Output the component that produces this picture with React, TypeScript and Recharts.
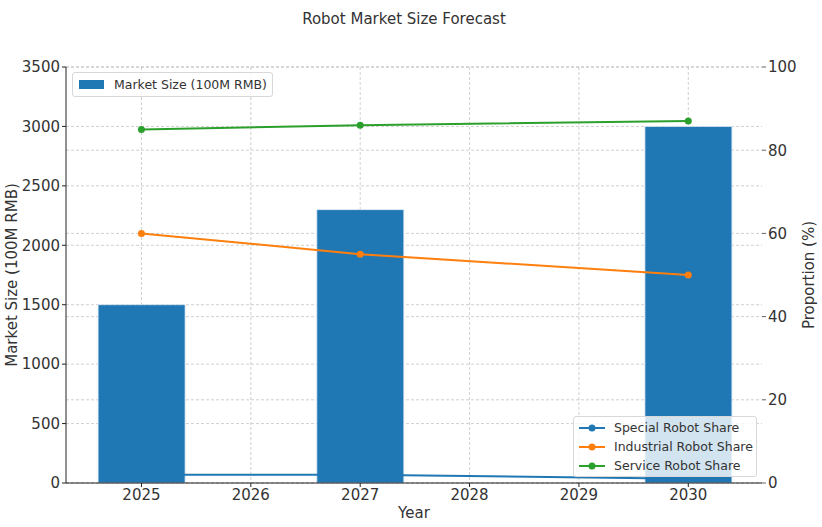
import React from 'react';
import { ComposedChart, Bar, Line, XAxis, YAxis, CartesianGrid } from 'recharts';

const years = [2025, 2027, 2030];
const marketSize = [1500, 2300, 3000];
const specialShare = [2, 2, 1];
const industrialShare = [60, 55, 50];
const serviceShare = [85, 86, 87];

const yearTicks = [2025, 2026, 2027, 2028, 2029, 2030];
const sizeTicks = [0, 500, 1000, 1500, 2000, 2500, 3000, 3500];
const shareTicks = [0, 20, 40, 60, 80, 100];

const data = years.map((year, i) => ({
  year,
  size: marketSize[i],
  special: specialShare[i],
  industrial: industrialShare[i],
  service: serviceShare[i],
}));

const FONT = 'DejaVu Sans, sans-serif';
const tickStyle = { fill: '#333', fontSize: 15, fontFamily: FONT };

const lineSeries = [
  { key: 'special', name: 'Special Robot Share', color: '#1f77b4' },
  { key: 'industrial', name: 'Industrial Robot Share', color: '#ff7f0e' },
  { key: 'service', name: 'Service Robot Share', color: '#2ca02c' },
];

const App = () => {
  return (
    <div style={{ position: 'relative', width: 822, height: 527, fontFamily: FONT, color: '#333', background: '#fff' }}>
      <style>{`body { margin: 0; }`}</style>
      <ComposedChart width={822} height={527} data={data} margin={{ top: 67, right: 0, bottom: 0, left: 0 }}>
        <XAxis
          dataKey="year"
          type="number"
          domain={[2024.31, 2030.674]}
          ticks={yearTicks}
          allowDataOverflow
          height={44}
          tick={tickStyle}
          tickSize={4}
          stroke="#222"
          tickLine={{ stroke: '#222' }}
        />
        <YAxis
          yAxisId="left"
          domain={[0, 3500]}
          ticks={sizeTicks}
          width={66}
          tick={tickStyle}
          tickSize={4}
          stroke="#222"
        />
        <YAxis
          yAxisId="right"
          orientation="right"
          domain={[0, 100]}
          ticks={shareTicks}
          width={60}
          tick={tickStyle}
          tickSize={4}
          axisLine={false}
          tickLine={{ stroke: '#666' }}
        />
        <Bar yAxisId="left" dataKey="size" fill="#1f77b4" stroke="#dfe9f3" strokeWidth={0.8} barSize={87} isAnimationActive={false} />
        <CartesianGrid yAxisId="left" syncWithTicks strokeDasharray="3 2" stroke="#b0b0b0" strokeOpacity={0.6} />
        <CartesianGrid yAxisId="right" syncWithTicks vertical={false} strokeDasharray="3 2" stroke="#b0b0b0" strokeOpacity={0.6} />
        {lineSeries.map((s) => (
          <Line
            key={s.key}
            yAxisId="right"
            dataKey={s.key}
            stroke={s.color}
            strokeWidth={2}
            dot={{ r: 3.5, fill: s.color, stroke: s.color, strokeWidth: 0 }}
            activeDot={false}
            isAnimationActive={false}
          />
        ))}
      </ComposedChart>

      <div style={{ position: 'absolute', left: 0, width: 808, top: 10, textAlign: 'center', fontSize: 15 }}>
        Robot Market Size Forecast
      </div>
      <div style={{ position: 'absolute', left: 66, width: 696, top: 504, textAlign: 'center', fontSize: 15 }}>Year</div>
      <div
        style={{
          position: 'absolute', left: 12, top: 275, fontSize: 15, whiteSpace: 'nowrap',
          transform: 'translate(-50%, -50%) rotate(-90deg)',
        }}
      >
        Market Size (100M RMB)
      </div>
      <div
        style={{
          position: 'absolute', left: 809, top: 275, fontSize: 15, whiteSpace: 'nowrap',
          transform: 'translate(-50%, -50%) rotate(-90deg)',
        }}
      >
        Proportion (%)
      </div>

      <div
        style={{
          position: 'absolute', left: 72, top: 72, width: 199, height: 23, border: '1px solid #d8d8d8',
          borderRadius: 3, background: 'rgba(255,255,255,0.8)', display: 'flex', alignItems: 'center', fontSize: 12.5,
        }}
      >
        <span style={{ display: 'inline-block', width: 25, height: 9, background: '#1f77b4', marginLeft: 6, marginRight: 10 }} />
        <span>Market Size (100M RMB)</span>
      </div>

      <div
        style={{
          position: 'absolute', left: 573, top: 416, width: 184, height: 61, border: '1px solid #d8d8d8',
          borderRadius: 3, background: 'rgba(255,255,255,0.8)', fontSize: 12.5, paddingTop: 1, boxSizing: 'border-box',
        }}
      >
        {lineSeries.map((s) => (
          <div key={s.key} style={{ display: 'flex', alignItems: 'center', height: 19 }}>
            <svg width={26} height={10} style={{ marginLeft: 5, marginRight: 9 }}>
              <line x1={0} y1={5} x2={26} y2={5} stroke={s.color} strokeWidth={2} />
              <circle cx={13} cy={5} r={3.5} fill={s.color} />
            </svg>
            <span>{s.name}</span>
          </div>
        ))}
      </div>
    </div>
  );
};

export default App;
